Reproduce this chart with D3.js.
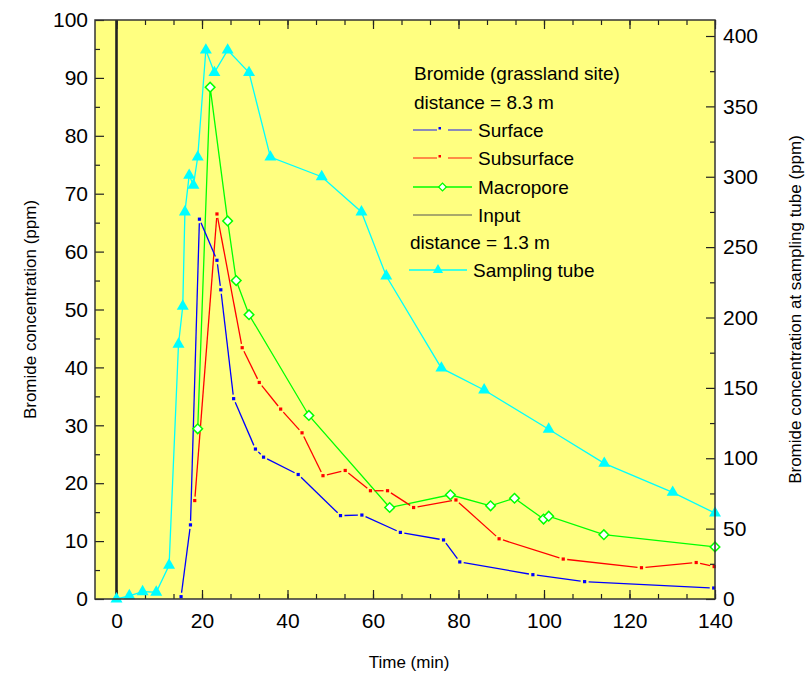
<!DOCTYPE html>
<html>
<head>
<meta charset="utf-8">
<script src="https://cdn.jsdelivr.net/npm/d3@7"></script>
<style>
  body { margin: 0; background: #fff; }
  text { font-family: "Liberation Sans", Arial, sans-serif; fill: #000; }
</style>
</head>
<body>
<svg id="chart" width="812" height="673"></svg>
<script>
// time (min), concentration (ppm)
const surface = [[15.1,0.4],[17.3,12.8],[19.4,65.6],[23.5,58.5],[24.4,53.4],[27.4,34.6],[32.5,25.9],[34.4,24.5],[42.5,21.5],[52.4,14.4],[57.4,14.5],[66.4,11.5],[76.5,10.2],[80.3,6.4],[97.4,4.2],[109.5,3.0],[139.7,1.9]];
const subsurface = [[18.3,17.0],[23.5,66.5],[29.4,43.4],[33.4,37.4],[38.4,32.8],[43.4,28.7],[48.3,21.3],[53.5,22.2],[59.4,18.7],[63.4,18.7],[69.5,15.8],[79.4,17.1],[89.5,10.4],[104.5,6.9],[122.8,5.4],[135.6,6.3],[139.8,5.6]];
const macropore = [[19.0,29.4],[21.9,88.4],[26.0,65.3],[28.0,55.0],[31.0,49.1],[45.0,31.7],[63.9,15.8],[78.1,18.0],[87.5,16.1],[93.1,17.4],[99.9,13.8],[101.1,14.3],[114.0,11.1],[140.0,9.0]];
const input = [[0,0],[0,100]];
// sampling tube values on the right axis (ppm)
const samplingTube = [[0,0],[3.0,2.3],[6.1,5.2],[9.3,4.8],[12.3,24],[14.5,181],[15.5,208],[16.0,275],[17.0,301],[18.0,294],[19.0,314],[20.9,390],[22.9,374],[26.0,390],[31.0,374],[36.0,314],[48.0,300],[57.3,275],[63.1,229.5],[76.0,164],[86.0,148.5],[101.1,120.6],[114.1,96.4],[130.1,75.8],[140.0,61]];

const xTicks = [0,20,40,60,80,100,120,140];
const yLeftTicks = [0,10,20,30,40,50,60,70,80,90,100];
const yRightTicks = [0,50,100,150,200,250,300,350,400];

const legendTitle = ["Bromide (grassland site)", "distance = 8.3 m"];
const legendNames = ["Surface", "Subsurface", "Macropore", "Input"];
const legendTube = ["distance = 1.3 m", "Sampling tube"];

const svg = d3.select("#chart");
const pL = 95, pR = 715, pT = 20, pB = 599;

const x = d3.scaleLinear().domain([-5.03, 140]).range([pL, pR]);
const y = d3.scaleLinear().domain([0, 100]).range([pB, pT]);
const y2 = d3.scaleLinear().domain([0, 400]).range([pB, 36]);

// plot background
svg.append("rect")
    .attr("x", pL).attr("y", pT)
    .attr("width", pR - pL).attr("height", pB - pT)
    .attr("fill", "#ffff80");

// axes (ticks point inward)
function styleAxis(g) {
    g.select(".domain").remove();
    g.selectAll(".tick line").attr("stroke", "#222").attr("stroke-width", 1.2);
    g.selectAll(".tick text").attr("font-size", 21).attr("fill", "#000");
}

const minorX = d3.range(0, 140.01, 20 / 3);

svg.append("g").attr("transform", `translate(0,${pB})`)
    .call(d3.axisBottom(x).tickValues(minorX).tickSize(-5).tickFormat(""))
    .call(styleAxis);
svg.append("g").attr("transform", `translate(0,${pB})`)
    .call(d3.axisBottom(x).tickValues(xTicks).tickSize(-9).tickPadding(14))
    .call(styleAxis);
svg.append("g").attr("transform", `translate(0,${pT})`)
    .call(d3.axisTop(x).tickValues(minorX).tickSize(-5).tickFormat(""))
    .call(styleAxis);
svg.append("g").attr("transform", `translate(0,${pT})`)
    .call(d3.axisTop(x).tickValues(xTicks).tickSize(-9).tickFormat(""))
    .call(styleAxis);

svg.append("g").attr("transform", `translate(${pL},0)`)
    .call(d3.axisLeft(y).tickValues(d3.range(5, 100, 10)).tickSize(-5).tickFormat(""))
    .call(styleAxis);
svg.append("g").attr("transform", `translate(${pL},0)`)
    .call(d3.axisLeft(y).tickValues(yLeftTicks).tickSize(-9).tickPadding(7))
    .call(styleAxis);

svg.append("g").attr("transform", `translate(${pR},0)`)
    .call(d3.axisRight(y2).tickValues(d3.range(25, 400, 50)).tickSize(-5).tickFormat(""))
    .call(styleAxis);
svg.append("g").attr("transform", `translate(${pR},0)`)
    .call(d3.axisRight(y2).tickValues(yRightTicks).tickSize(-9).tickPadding(8))
    .call(styleAxis);

// axis titles
svg.append("text")
    .attr("transform", `translate(36,${(pT + pB) / 2}) rotate(-90)`)
    .attr("text-anchor", "middle").attr("font-size", 17)
    .text("Bromide concentration (ppm)");
svg.append("text")
    .attr("transform", `translate(801,${(pT + pB) / 2}) rotate(-90)`)
    .attr("text-anchor", "middle").attr("font-size", 17)
    .text("Bromide concentration at sampling tube (ppm)");
svg.append("text")
    .attr("x", (pL + pR) / 2 + 4).attr("y", 668)
    .attr("text-anchor", "middle").attr("font-size", 17)
    .text("Time (min)");

// lines broken by a small gap around each marker
function gappedLine(data, color, ys, gap) {
    const g = svg.append("g");
    for (let i = 0; i < data.length - 1; i++) {
        const x1 = x(data[i][0]), y1 = ys(data[i][1]);
        const x2 = x(data[i + 1][0]), y2p = ys(data[i + 1][1]);
        const len = Math.hypot(x2 - x1, y2p - y1);
        if (len <= 2 * gap) continue;
        const ux = (x2 - x1) / len, uy = (y2p - y1) / len;
        g.append("line")
            .attr("x1", x1 + ux * gap).attr("y1", y1 + uy * gap)
            .attr("x2", x2 - ux * gap).attr("y2", y2p - uy * gap)
            .attr("stroke", color).attr("stroke-width", 1.3);
    }
    g.selectAll("rect").data(data).enter().append("rect")
        .attr("x", d => x(d[0]) - 1.6).attr("y", d => ys(d[1]) - 1.6)
        .attr("width", 3.2).attr("height", 3.2)
        .attr("fill", color);
}

const line = ys => d3.line().x(d => x(d[0])).y(d => ys(d[1]));

// input pulse
svg.append("path").datum(input)
    .attr("d", line(y))
    .attr("fill", "none").attr("stroke", "#222").attr("stroke-width", 2.6);

// sampling tube
svg.append("path").datum(samplingTube)
    .attr("d", line(y2))
    .attr("fill", "none").attr("stroke", "#00ffff").attr("stroke-width", 1.3);
const tri = d3.symbol().type(d3.symbolTriangle).size(62);
svg.append("g").selectAll("path").data(samplingTube).enter().append("path")
    .attr("d", tri)
    .attr("transform", d => `translate(${x(d[0])},${y2(d[1])})`)
    .attr("fill", "#00ffff");

// macropore
svg.append("path").datum(macropore)
    .attr("d", line(y))
    .attr("fill", "none").attr("stroke", "#00ff00").attr("stroke-width", 1.3);

gappedLine(subsurface, "#ff0000", y, 4);
gappedLine(surface, "#0000ff", y, 4);

// square diamonds (square turned 45 degrees)
const dia = d3.symbol().type(d3.symbolSquare).size(46);
svg.append("g").selectAll("path").data(macropore).enter().append("path")
    .attr("d", dia)
    .attr("transform", d => `translate(${x(d[0])},${y(d[1])}) rotate(45)`)
    .attr("fill", "#fff").attr("stroke", "#00ff00").attr("stroke-width", 1.5);

// frame
svg.append("rect")
    .attr("x", pL).attr("y", pT)
    .attr("width", pR - pL).attr("height", pB - pT)
    .attr("fill", "none").attr("stroke", "#333").attr("stroke-width", 1.5);

// legend
const lg = svg.append("g").attr("font-size", 19);
const rowY = [73, 102, 130, 158, 187, 215, 242, 270];
legendTitle.forEach((t, i) => {
    lg.append("text").attr("x", 414).attr("y", rowY[i]).attr("dy", "0.35em").text(t);
});
const legColors = ["#0000ff", "#ff0000", "#00ff00", "#333"];
legendNames.forEach((name, i) => {
    const yy = rowY[i + 2];
    if (i < 2) {
        lg.append("line").attr("x1", 413).attr("x2", 437).attr("y1", yy).attr("y2", yy)
            .attr("stroke", legColors[i]).attr("stroke-opacity", 0.7).attr("stroke-width", 1.3);
        lg.append("line").attr("x1", 448).attr("x2", 472).attr("y1", yy).attr("y2", yy)
            .attr("stroke", legColors[i]).attr("stroke-opacity", 0.7).attr("stroke-width", 1.3);
        lg.append("rect").attr("x", 438.5).attr("y", yy - 3).attr("width", 2.5).attr("height", 2.5)
            .attr("fill", legColors[i]);
    } else if (i === 2) {
        lg.append("line").attr("x1", 413).attr("x2", 472).attr("y1", yy).attr("y2", yy)
            .attr("stroke", legColors[i]).attr("stroke-width", 1.3);
        lg.append("path").attr("d", d3.symbol().type(d3.symbolSquare).size(30))
            .attr("transform", `translate(442.5,${yy}) rotate(45)`)
            .attr("fill", "#fff").attr("stroke", "#00ff00").attr("stroke-width", 1.3);
    } else {
        lg.append("line").attr("x1", 413).attr("x2", 472).attr("y1", yy).attr("y2", yy)
            .attr("stroke", "#555").attr("stroke-width", 1.2);
    }
    lg.append("text").attr("x", 478).attr("y", yy).attr("dy", "0.35em").text(name);
});
lg.append("text").attr("x", 410).attr("y", rowY[6]).attr("dy", "0.35em").text(legendTube[0]);
lg.append("line").attr("x1", 409).attr("x2", 467).attr("y1", rowY[7]).attr("y2", rowY[7])
    .attr("stroke", "#00ffff").attr("stroke-width", 1.3);
lg.append("path").attr("d", d3.symbol().type(d3.symbolTriangle).size(45))
    .attr("transform", `translate(438,${rowY[7]})`).attr("fill", "#00ffff");
lg.append("text").attr("x", 473).attr("y", rowY[7]).attr("dy", "0.35em").text(legendTube[1]);
</script>
</body>
</html>
